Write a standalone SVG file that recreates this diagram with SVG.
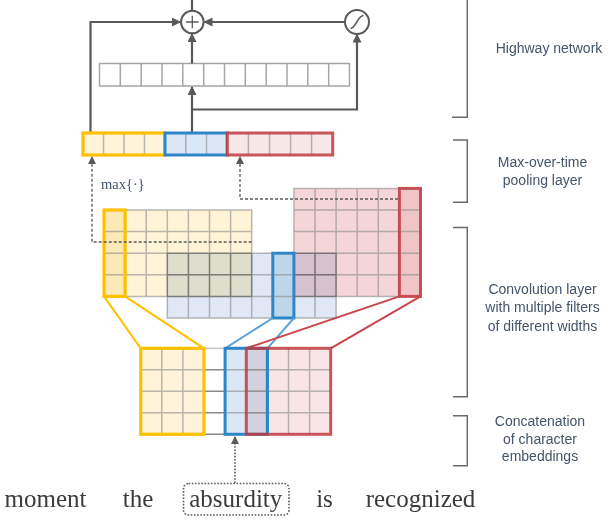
<svg xmlns="http://www.w3.org/2000/svg" width="610" height="522" viewBox="0 0 610 522">
<defs>
<marker id="ah" markerUnits="userSpaceOnUse" markerWidth="9" markerHeight="9" refX="8" refY="4.5" orient="auto"><path d="M0,0 L9,4.5 L0,9 z" fill="#595959"/></marker>
<marker id="ahs" markerUnits="userSpaceOnUse" markerWidth="8" markerHeight="8" refX="7" refY="4" orient="auto"><path d="M0,0 L8,4 L0,8 z" fill="#595959"/></marker>
<style>
.conn{fill:none;stroke:#595959;stroke-width:2.2}
.dash{fill:none;stroke:#595959;stroke-width:1.3;stroke-dasharray:3 2}
.dot{fill:none;stroke:#595959;stroke-width:1.6;stroke-dasharray:1.6 1.6}
.grid{fill:none;stroke:#8a8a8a;stroke-opacity:.6;stroke-width:1.5}
.hv{fill:#fff;stroke:#a6a6a6;stroke-width:1.5}
.circ{fill:#fff;stroke:#595959;stroke-width:2}
.yb{stroke:#ffc000;stroke-width:3.2}
.bb{stroke:#2e86c8;stroke-width:3}
.rb{stroke:#c0393f;stroke-width:3;stroke-opacity:.85}
.mul{mix-blend-mode:multiply}
.lab{font-family:"Liberation Sans",Arial,sans-serif;font-size:14px;fill:#44546a;text-anchor:middle}
.word{font-family:"Liberation Serif","Times New Roman",serif;font-size:25px;fill:#3b3b3b;text-anchor:middle}
.brk{fill:none;stroke:#6a6a6a;stroke-width:1.5}
</style>
</defs>
<rect width="610" height="522" fill="#fff"/>

<!-- Highway vector -->
<g id="highway-vector">
<rect class="hv" x="99.5" y="63.5" width="250" height="22.5"/>
<path class="hv" d="M120.3,63.5V86M141.2,63.5V86M162,63.5V86M182.8,63.5V86M203.7,63.5V86M224.5,63.5V86M245.3,63.5V86M266.2,63.5V86M287,63.5V86M307.8,63.5V86M328.7,63.5V86"/>
</g>

<!-- Connectors -->
<g id="connectors">
<path class="conn" d="M192,0V10.5"/>
<path class="conn" d="M90.5,133V22H180" marker-end="url(#ah)"/>
<path class="conn" d="M345,22H204.5" marker-end="url(#ah)"/>
<path class="conn" d="M192,63.5V34" marker-end="url(#ah)"/>
<path class="conn" d="M192,133V87" marker-end="url(#ah)"/>
<path class="conn" d="M192,109.5H357V34.5" marker-end="url(#ah)"/>
</g>

<!-- Sum node -->
<g id="highway-sum">
<circle class="circ" cx="192.3" cy="22" r="11.3"/>
<path d="M186,22H198.6M192.3,15.7V28.3" stroke="#595959" stroke-width="1.3"/>
</g>

<!-- Gate node -->
<g id="highway-gate">
<circle class="circ" cx="357" cy="22" r="12"/>
<path d="M350.5,28.5C356,28.5 357.5,15.5 363.5,15.5" fill="none" stroke="#595959" stroke-width="1.6"/>
</g>

<!-- Pooling layer -->
<g id="pool-yellow">
<rect x="83" y="133" width="82" height="22" fill="#fff4d9"/>
<path class="grid" d="M103.5,133V155M124,133V155M144.5,133V155"/>
<rect x="83" y="133" width="82" height="22" fill="none" class="yb"/>
</g>
<g id="pool-blue">
<rect x="165" y="133" width="62.3" height="22" fill="#dae8f5"/>
<path class="grid" d="M185.8,133V155M206.5,133V155"/>
<rect x="165" y="133" width="62.3" height="22" fill="none" class="bb"/>
</g>
<g id="pool-red">
<rect x="227.3" y="133" width="105.4" height="22" fill="#f7e7e7"/>
<path class="grid" d="M248.4,133V155M269.5,133V155M290.6,133V155M311.6,133V155"/>
<rect x="227.3" y="133" width="105.4" height="22" fill="none" class="rb"/>
</g>

<text x="101" y="189" style="font-family:'Liberation Serif','Times New Roman',serif;font-size:14.5px;fill:#44546a">max{·}</text>

<!-- Convolution layer -->
<g id="conv-yellow">
<rect x="104" y="210" width="147.7" height="86.4" fill="#fff4d6"/>
<path class="grid" d="M104,210H251.7V296.4H104ZM125.1,210V296.4M146.2,210V296.4M167.3,210V296.4M188.4,210V296.4M209.5,210V296.4M230.6,210V296.4M104,231.6H251.7M104,253.2H251.7M104,274.8H251.7"/>
</g>
<g id="conv-blue" class="mul">
<rect x="167.3" y="253.2" width="168.8" height="64.8" fill="#dfe8f4"/>
<path class="grid" d="M167.3,253.2H336.1V318H167.3ZM188.4,253.2V318M209.5,253.2V318M230.6,253.2V318M251.7,253.2V318M272.8,253.2V318M293.9,253.2V318M315,253.2V318M167.3,274.8H336.1M167.3,296.4H336.1"/>
</g>
<g id="conv-red" class="mul">
<rect x="293.9" y="188.4" width="126.6" height="108" fill="#f5d5d8"/>
<path class="grid" d="M293.9,188.4H420.5V296.4H293.9ZM315,188.4V296.4M336.1,188.4V296.4M357.2,188.4V296.4M378.3,188.4V296.4M399.4,188.4V296.4M293.9,210H420.5M293.9,231.6H420.5M293.9,253.2H420.5M293.9,274.8H420.5"/>
</g>
<g id="conv-yellow-filter">
<rect x="104" y="210" width="21.1" height="86.4" fill="#fde9b5" class="yb"/>
<path class="grid" d="M105.5,231.6H123.6M105.5,253.2H123.6M105.5,274.8H123.6"/>
</g>
<g id="conv-blue-filter">
<rect x="272.8" y="253.2" width="21.1" height="64.8" fill="#bed6ea" class="bb"/>
<path class="grid" d="M274.3,274.8H292.4M274.3,296.4H292.4"/>
</g>
<g id="conv-red-filter">
<rect x="399.4" y="188.4" width="21.1" height="108" fill="#f1c4c7" class="rb"/>
<path class="grid" d="M400.9,210H419M400.9,231.6H419M400.9,253.2H419M400.9,274.8H419"/>
</g>

<!-- dashed pooling connectors -->
<g id="pool-connectors">
<path class="dash" d="M251.7,242H92V157" marker-end="url(#ahs)"/>
<path class="dash" d="M398,199H240V157" marker-end="url(#ahs)"/>
</g>

<!-- Filter-to-convolution lines -->
<g id="filter-lines">
<path d="M140.7,348.3L104,296.4M204,348.3L125.1,296.4" stroke="#ffc000" stroke-width="2" fill="none"/>
<path d="M225.1,348.3L272.8,318M267.4,348.3L293.9,318" stroke="#5ba3d9" stroke-width="2" fill="none"/>
<path d="M246.3,348.3L399.4,296.4M330.7,348.3L420.5,296.4" stroke="#c9454b" stroke-width="2" fill="none"/>
</g>

<!-- Character embeddings -->
<g id="embeddings">
<path d="M204,348.3H225.1" stroke="#c4c4c4" stroke-width="1.5"/>
<path d="M204,369.8H225.1M204,391.3H225.1M204,412.8H225.1M204,434.3H225.1" stroke="#8a8a8a" stroke-width="1.5"/>
</g>
<g id="embed-yellow">
<rect x="140.7" y="348.3" width="63.3" height="86" fill="#fff4d9"/>
<path class="grid" d="M161.8,348.3V434.3M182.9,348.3V434.3M140.7,369.8H204M140.7,391.3H204M140.7,412.8H204"/>
<rect x="140.7" y="348.3" width="63.3" height="86" fill="none" class="yb"/>
</g>
<g id="embed-blue">
<rect x="225.1" y="348.3" width="42.3" height="86" fill="#dae8f5"/>
<path class="grid" d="M225.1,369.8H267.4M225.1,391.3H267.4M225.1,412.8H267.4"/>
<rect x="225.1" y="348.3" width="42.3" height="86" fill="none" class="bb"/>
</g>
<g id="embed-red">
<rect x="246.3" y="348.3" width="84.4" height="86" fill="#f8e5e6" class="mul"/>
<path class="grid" d="M288.5,348.3V434.3M309.6,348.3V434.3M246.3,369.8H330.7M246.3,391.3H330.7M246.3,412.8H330.7"/>
<rect x="246.3" y="348.3" width="84.4" height="86" fill="none" class="rb"/>
<path d="M267.4,349.8V432.8" stroke="#2e86c8" stroke-width="3"/>
</g>

<!-- Input word -->
<g id="word-pointer">
<path class="dot" d="M235,483V437" marker-end="url(#ahs)"/>
<rect class="dot" x="183.5" y="483.5" width="105.5" height="31.5" rx="5"/>
</g>
<g id="words">
<text class="word" x="45.5" y="507">moment</text>
<text class="word" x="138" y="507">the</text>
<text class="word" x="235.8" y="507">absurdity</text>
<text class="word" x="324.5" y="507">is</text>
<text class="word" x="420.5" y="507">recognized</text>
</g>

<!-- Brackets and labels -->
<g id="brackets">
<path class="brk" d="M452,117.3H467.3V0"/>
<path class="brk" d="M453,140H467.3V202.3H453"/>
<path class="brk" d="M453,227.5H467.3V396.7H453"/>
<path class="brk" d="M453,415.7H467.3V465.7H453"/>
</g>
<g id="labels">
<text class="lab" x="549" y="53">Highway network</text>
<text class="lab" x="542.5" y="167">Max-over-time</text>
<text class="lab" x="542.5" y="185">pooling layer</text>
<text class="lab" x="542.5" y="293.5">Convolution layer</text>
<text class="lab" x="542.5" y="312">with multiple filters</text>
<text class="lab" x="542.5" y="330.5">of different widths</text>
<text class="lab" x="540" y="426">Concatenation</text>
<text class="lab" x="540" y="443.5">of character</text>
<text class="lab" x="540" y="461">embeddings</text>
</g>
</svg>
